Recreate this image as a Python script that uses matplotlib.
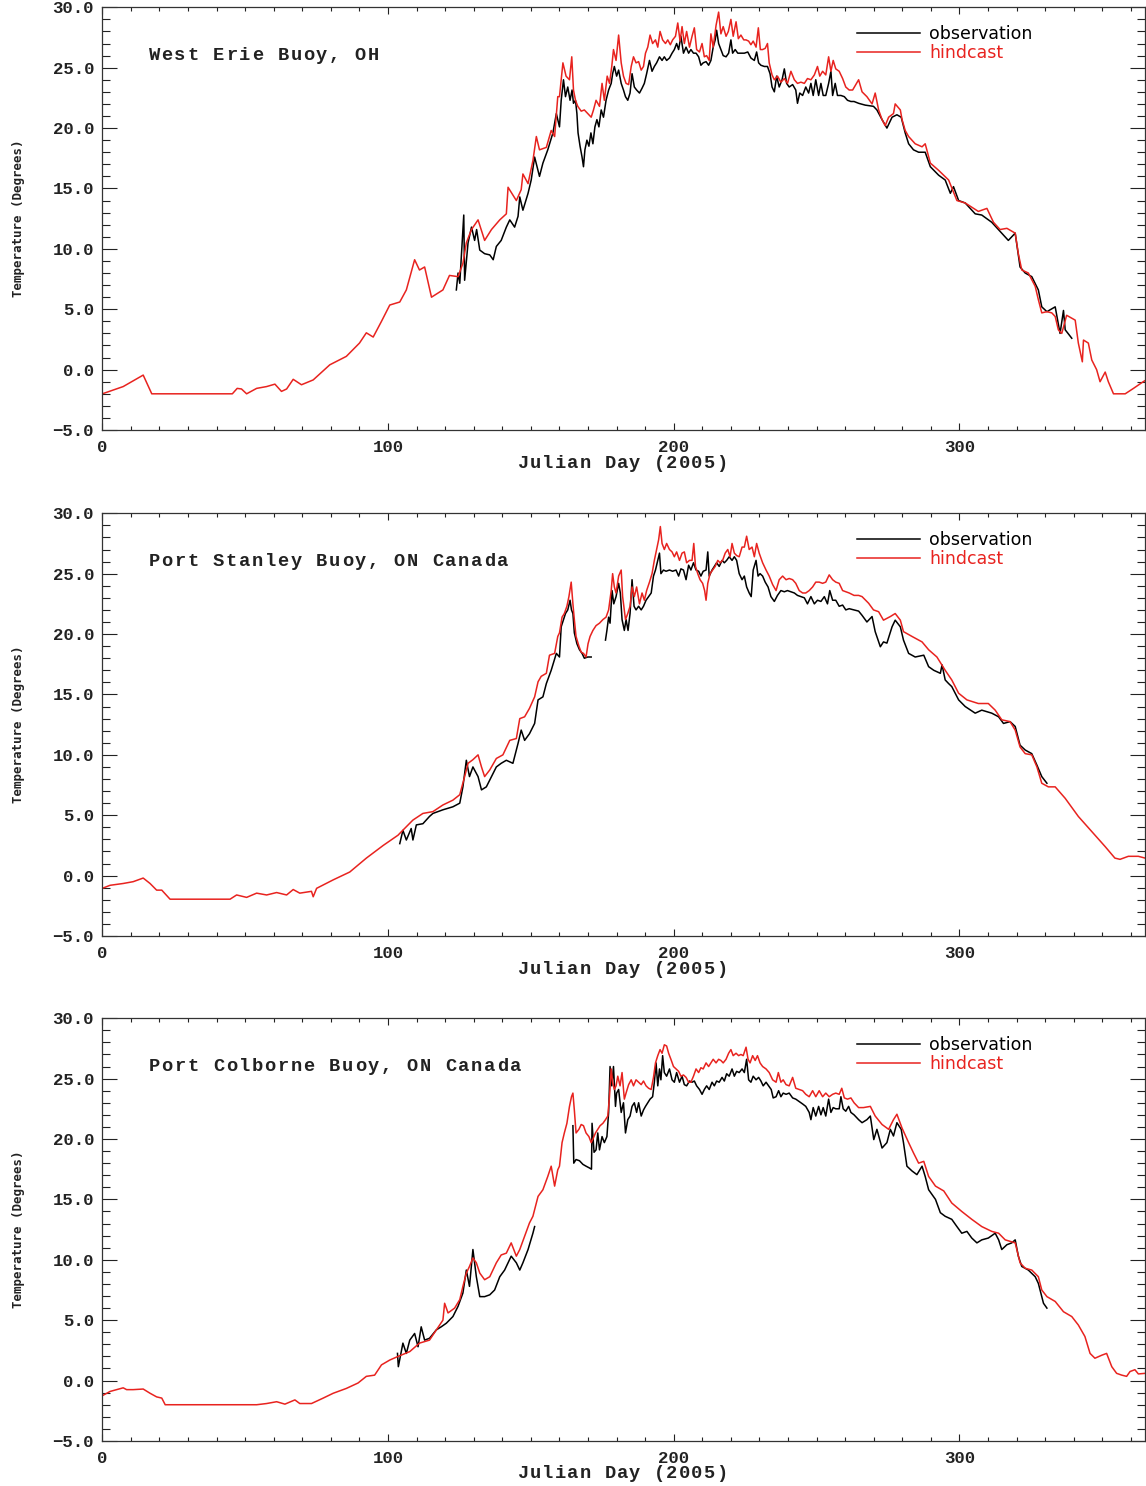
import numpy as np
import matplotlib
matplotlib.use("Agg")
import matplotlib.pyplot as plt
from matplotlib.ticker import MultipleLocator, FuncFormatter
from matplotlib.transforms import offset_copy

# buoy names, one panel each
stations = ["West Erie Buoy, OH", "Port Stanley Buoy, ON Canada", "Port Colborne Buoy, ON Canada"]

# (julian day, water temperature) pairs, 2005
erie_hind = [(0, -2.0), (7.3, -1.4), (14.3, -0.45), (17.3, -2.0), (45.5, -2.0), (47.2, -1.55), (48.7, -1.6),
             (50.5, -2.0), (54, -1.55), (57.5, -1.4), (60.4, -1.2), (62.7, -1.8), (64.5, -1.6), (66.8, -0.8),
             (69.7, -1.25), (73.8, -0.85), (79.6, 0.4), (85.4, 1.1), (90, 2.2), (92.4, 3.05), (94.8, 2.7),
             (97.7, 4.0), (100.6, 5.35), (104.1, 5.6), (106.4, 6.6), (109.3, 9.1), (111, 8.25), (112.8, 8.5),
             (115.2, 6.0), (119.2, 6.6), (121.5, 7.8), (124.5, 7.7), (126.2, 8.8), (127.4, 10.5), (129.2, 11.6),
             (131.5, 12.4), (133.8, 10.7), (136.2, 11.6), (139.1, 12.4), (141.4, 12.9), (142.0, 15.1),
             (144.9, 14.0), (146.6, 14.9), (147.2, 16.2), (149, 15.4), (150.7, 17.3), (151.9, 19.3), (153, 18.2),
             (155.4, 18.4), (157.1, 19.8), (158.3, 19.3), (159.4, 22.6),
             (160, 22.6), (161.2, 25.4), (162.3, 24.3), (163.5, 24.0), (164.3, 25.9), (164.9, 23.15), (165.6, 22.3),
             (166.4, 21.8), (167.6, 21.4), (168.7, 21.5), (169.9, 21.2), (171.1, 20.9), (171.9, 21.5), (172.8, 22.3),
             (174, 21.8), (174.9, 23.7), (175.7, 22.3), (176.7, 24.3), (177.5, 23.7), (178.3, 25.1), (178.9, 26.5),
             (179.8, 25.6), (180.7, 27.7), (181.6, 25.4), (182.4, 24.3), (183.3, 23.7), (184.2, 23.6), (185.1, 25.1),
             (185.9, 25.9), (186.8, 25.4), (187.7, 25.5), (188.6, 24.8), (189.4, 25.1), (190.1, 26.2), (190.9, 26.7),
             (191.7, 27.7), (192.6, 27.0), (193.6, 27.3), (194.4, 26.7), (195.2, 28.0), (196.1, 27.3), (197.1, 27.0),
             (197.9, 27.3), (198.8, 26.9), (199.6, 27.3), (200.6, 27.6), (201.4, 28.7), (202.2, 27.2), (202.9, 28.4),
             (203.7, 27.0), (204.5, 28.0), (205.5, 26.7), (206.4, 27.6), (207.2, 28.3), (208, 26.5), (209, 26.3),
             (209.9, 27.0), (210.7, 25.9), (211.5, 26.0), (212.4, 25.6), (213, 27.8), (213.8, 26.7), (214.8, 28.5),
             (215.7, 29.6), (216.5, 27.8), (217.3, 28.4), (218.3, 27.6), (219.1, 28.0), (220, 29.0), (220.8, 27.6),
             (221.8, 28.8), (222.6, 27.4), (223.5, 27.7), (224.5, 27.3), (225.3, 27.3), (226.2, 27.2), (227, 26.9),
             (227.8, 27.2), (228.8, 26.7), (229.6, 28.3), (230.3, 26.5), (231.1, 26.5), (232, 26.6), (232.8, 27.0),
             (233.4, 25.4), (234.4, 24.4), (235.2, 24.0), (236.3, 24.3), (237.5, 23.8), (238.7, 24.1), (239.8, 23.7),
             (241, 24.7), (242.2, 24.0), (243.3, 23.7), (244.5, 23.8), (245.7, 23.7), (246.8, 24.1), (248, 24.0),
             (249.2, 24.4), (250.3, 25.1), (251.1, 24.3), (252.1, 24.7), (253.2, 24.4), (254.2, 25.9), (255, 24.7),
             (255.8, 25.6), (256.7, 24.9), (257.9, 24.7), (259.1, 24.1), (260.2, 23.4), (261.4, 23.15),
             (262.6, 23.15), (263.7, 23.6), (264.7, 24.0),
             (265.9, 23.0), (267.6, 22.6), (269.4, 22.0), (270.5, 22.9), (271.7, 21.5), (272.9, 20.7), (274, 20.2),
             (275.2, 20.9), (276.9, 21.2), (277.5, 22.0), (279.3, 21.5), (279.9, 20.7), (281, 19.8), (282.2, 19.3),
             (284.5, 18.7), (286.9, 18.45), (288, 18.7), (289.8, 17.1), (292.7, 16.5), (296.2, 15.7), (299.1, 14.0),
             (302, 13.8), (306.6, 13.1), (309.6, 13.35), (311.9, 12.2), (314.2, 11.6), (316.6, 11.7), (319.5, 11.3),
             (320.6, 9.6), (321.8, 8.25), (324.1, 8.0), (326.5, 6.9), (327.6, 5.8), (328.8, 4.7), (330.6, 4.8),
             (332.3, 4.7), (333.5, 4.4), (334.6, 3.3), (335.8, 3.0), (337.5, 4.5), (340.5, 4.1), (341.6, 2.2),
             (343, 0.65), (343.4, 2.45), (345.1, 2.2), (346.3, 0.8), (348, 0.0), (349.2, -1.0), (351, -0.2),
             (352.1, -1.0), (353.9, -2.0), (358, -2.0), (360.9, -1.55), (364.3, -1.0), (365, -0.9)]

erie_obs = [(123.9, 6.6), (124.5, 8.0), (125.1, 7.15), (126.5, 12.8), (126.8, 7.4), (128, 10.5), (129.2, 11.8),
            (130.3, 10.7), (131, 11.6), (132.1, 9.9), (133.8, 9.6), (135.6, 9.5), (136.8, 9.1), (137.9, 10.2),
            (139.6, 10.7), (141.4, 11.8), (142.6, 12.4), (144.3, 11.8), (145.5, 12.7), (146.1, 14.3), (147.2, 13.2),
            (149, 14.6), (150.1, 15.7), (151.3, 17.6), (153, 16.0), (154.2, 17.1), (155.9, 18.2), (157.7, 19.6),
            (158.9, 21.2),
            (160, 20.1), (160.6, 22.3), (161.4, 24.0), (162.1, 22.6), (162.9, 23.4), (163.7, 22.3), (164.4, 23.15),
            (164.9, 22.05), (165.6, 22.3), (166.1, 21.2), (166.5, 19.6), (167.2, 18.5), (167.9, 17.6), (168.4, 16.8),
            (168.9, 18.2), (169.6, 19.0), (170.3, 18.5), (171, 19.6), (171.7, 18.7), (172.4, 20.1), (173.1, 20.7),
            (173.8, 20.1), (174.6, 21.5), (175.4, 20.9), (176.3, 22.3), (177.2, 23.15), (178.1, 23.7), (178.6, 24.5),
            (179.2, 25.1), (180, 24.3), (180.7, 24.8), (181.6, 23.7), (182.4, 23.15), (183.1, 22.6), (183.9, 22.3),
            (184.7, 22.9), (185.4, 24.5), (186.2, 23.4), (187, 23.15), (188, 22.9), (188.9, 23.3), (189.7, 23.7),
            (190.5, 24.5), (191.5, 25.6), (192.4, 24.7), (193.2, 25.1), (194, 25.4), (195, 25.9), (195.9, 25.6),
            (196.7, 25.9), (197.5, 25.6), (198.5, 25.8), (199.4, 26.2), (200.2, 26.5), (201, 27.0), (201.7, 26.5),
            (202.5, 27.6), (203.4, 26.2), (204.3, 26.7), (205.2, 26.2), (206, 26.5), (206.9, 26.2), (207.8, 26.2),
            (208.7, 25.9), (209.5, 25.2), (210.3, 25.4), (211.3, 25.5), (212.2, 25.2), (213, 25.6), (213.8, 26.7),
            (214.5, 27.3), (215, 28.1), (215.7, 27.0), (216.5, 26.5), (217.3, 26.0), (218.3, 25.9), (219.2, 26.2),
            (220, 27.3), (220.6, 26.2), (221.5, 26.5), (222.4, 26.2), (223.5, 26.2), (224.7, 26.2), (225.9, 26.3),
            (227, 25.8), (228.2, 25.6), (229, 26.3), (229.7, 25.4), (230.5, 25.2), (231.7, 25.1), (232.8, 25.1),
            (233.7, 24.5), (234.4, 23.4), (235.2, 23.0), (236, 24.3), (236.9, 23.4), (237.9, 24.0), (238.7, 24.9),
            (239.5, 23.7), (240.4, 23.4), (241.6, 23.6), (242.7, 23.15), (243.3, 22.05), (244.1, 22.9),
            (245.1, 22.7), (246.2, 23.4), (247.2, 22.9), (248, 23.7), (248.8, 22.7), (249.7, 24.0), (250.7, 22.7),
            (251.5, 23.7), (252.3, 22.7), (253.2, 22.7), (254.2, 23.7), (255, 24.7), (255.6, 22.7), (256.5, 23.7),
            (257.3, 22.7), (258.5, 22.7), (259.7, 22.6), (260.8, 22.3), (262, 22.2), (263.1, 22.2), (264.7, 22.05),
            (267, 21.9), (269.9, 21.8), (271.1, 21.5), (272.9, 20.7), (274.6, 20.0), (276.4, 20.9), (278.1, 21.1),
            (279.6, 20.9), (281, 19.6), (282.2, 18.7), (283.9, 18.2), (285.7, 18.0), (288, 18.0), (289.8, 16.8),
            (292.7, 16.1), (295, 15.7), (296.8, 14.6), (297.9, 15.15), (299.7, 14.0), (302, 13.8), (305.5, 12.9),
            (307.8, 12.8), (311.3, 12.2), (314.8, 11.3), (317.1, 10.7), (319.5, 11.3), (321.2, 8.5), (323, 8.0),
            (325.3, 7.7), (327.6, 6.6), (328.8, 5.2), (330.6, 4.8), (333.5, 5.2), (335.2, 3.0), (336.4, 4.9),
            (337, 3.3), (339.3, 2.6)]

stanley_hind = [(0, -1.05), (2.7, -0.8), (7.3, -0.65), (10.8, -0.5), (14.3, -0.2), (16.7, -0.65), (19, -1.2),
                (20.8, -1.2), (23.7, -1.95), (44.7, -1.95), (47, -1.6), (50.5, -1.8), (54, -1.45), (57.5, -1.6),
                (61, -1.4), (64.5, -1.6), (66.8, -1.15), (69.1, -1.45), (73.2, -1.3), (73.8, -1.75), (75, -1.05),
                (80.8, -0.35), (86.6, 0.3), (92.4, 1.45), (98.3, 2.5), (103.5, 3.35), (104.1, 3.5), (108.7, 4.6),
                (112.2, 5.15), (115.7, 5.3), (119.2, 5.85), (122.7, 6.25), (125.1, 6.7), (126.8, 8.2), (128, 9.3),
                (129.7, 9.6), (131.5, 10.0), (132.7, 9.0), (133.8, 8.2), (135.6, 8.75), (137.9, 9.7), (140.2, 10.0),
                (142.6, 11.2), (144.9, 11.35), (146.1, 13.0), (147.8, 13.15), (149.5, 13.85), (151.3, 14.8),
                (152.5, 16.05), (153.6, 16.5), (155.4, 16.75), (156.5, 18.25), (158.3, 18.4), (159.4, 19.8),
                (160, 20.1), (160.9, 21.4), (161.7, 21.7), (162.6, 22.3), (163.3, 23.1), (164.1, 24.3), (164.7, 22.5),
                (165.2, 21.2), (165.8, 19.8), (166.8, 19.0), (167.6, 18.5), (168.4, 18.4), (169.3, 18.1), (170, 19.2),
                (170.7, 19.8), (171.7, 20.3), (172.8, 20.7), (174, 20.9), (175.2, 21.2), (176.3, 21.4), (177.2, 22.0),
                (178.1, 23.6), (178.6, 25.0), (179.2, 23.9), (179.8, 23.4), (180.7, 24.8), (181.6, 25.3), (182.1, 23.1),
                (183.1, 21.2), (183.9, 21.7), (184.7, 22.3), (185.4, 23.9), (186.2, 23.1), (187, 23.9), (188, 22.5),
                (188.9, 23.4), (189.7, 22.8), (190.5, 23.6), (191.5, 24.3), (192.4, 25.0), (193.2, 26.1), (194, 27.0),
                (194.7, 27.8), (195.3, 28.9), (195.9, 27.5), (196.7, 27.0), (197.5, 27.5), (198.5, 27.0),
                (199.4, 26.8), (200.2, 26.4), (201, 26.8), (202, 26.1), (202.9, 26.7), (203.7, 26.8), (204.5, 25.9),
                (205.5, 26.1), (206.4, 26.1), (207, 27.5), (207.6, 25.6), (208.4, 25.0), (209.2, 24.5), (210.1, 24.2),
                (210.8, 23.6), (211.3, 22.8), (211.9, 24.2), (212.7, 25.0), (213.6, 25.3), (214.5, 25.6),
                (215.4, 26.1), (216.2, 25.9), (217.1, 26.1), (218, 26.7), (218.9, 27.0), (219.7, 26.4), (220.4, 27.5),
                (221.2, 26.7), (222, 26.5), (222.9, 26.4), (223.9, 27.2), (224.7, 27.2), (225.5, 28.1), (226.4, 27.0),
                (227.4, 27.2), (228.2, 26.4), (229, 27.5), (229.9, 26.7), (231.1, 25.9), (232.3, 25.3), (233.4, 24.8),
                (234.6, 24.1), (235.8, 23.6), (236.9, 24.5), (238.1, 24.8), (239.3, 24.5), (240.4, 24.6),
                (241.6, 24.5), (242.7, 24.2), (243.9, 23.6), (245.1, 23.4), (246.2, 23.4), (247.4, 23.6),
                (248.6, 23.9), (249.7, 24.3), (250.9, 24.3), (252.1, 24.2), (253.2, 24.3), (254.4, 24.9),
                (255.6, 24.5), (256.7, 24.3), (257.9, 24.2), (259.1, 23.6), (260.2, 23.5), (261.4, 23.4),
                (263.1, 23.2), (264.7, 23.2),
                (265.9, 23.1), (268.2, 22.55), (269.9, 22.0), (271.7, 21.85), (273.4, 21.15), (275.8, 21.45),
                (277.5, 21.7), (279.3, 21.15), (280.4, 20.2), (283.4, 19.8), (286.9, 19.35), (289.2, 18.7),
                (292.1, 18.1), (295, 17.0), (297.3, 16.2), (299.7, 15.1), (302.6, 14.55), (306.6, 14.25),
                (310.1, 14.25), (312.5, 13.7), (314.8, 12.9), (317.7, 12.75), (319.5, 12.05), (321.2, 10.65),
                (323, 10.1), (325.3, 10.0), (327.1, 9.0), (328.8, 7.65), (331.1, 7.35), (333.5, 7.35), (337, 6.4),
                (341.6, 4.9), (346.3, 3.65), (351, 2.4), (354.4, 1.45), (356.2, 1.35), (359.1, 1.6), (362.6, 1.6),
                (365, 1.45)]

stanley_obs = [(104.1, 2.65), (105.2, 3.75), (106.4, 2.95), (108.1, 3.9), (108.7, 2.95), (109.9, 4.2),
               (112.2, 4.3), (114.5, 4.9), (115.7, 5.15), (119.2, 5.45), (122.7, 5.7), (125.1, 6.0), (126.2, 7.35),
               (127.4, 9.55), (128.5, 8.2), (129.7, 9.0), (131.5, 8.2), (132.7, 7.1), (134.4, 7.35), (136.2, 8.2),
               (137.9, 9.0), (139.6, 9.3), (141.4, 9.55), (143.7, 9.3), (145.5, 10.95), (146.6, 12.05),
               (147.8, 11.2), (149.5, 11.75), (151.3, 12.6), (152.5, 14.55), (154.2, 14.8), (155.4, 15.9),
               (157.1, 17.0), (158.9, 18.4),
               (160, 18.1), (160.6, 20.6), (161.4, 21.2), (162.1, 21.7), (162.9, 22.0), (163.7, 22.8), (164.2, 22.0),
               (164.7, 21.7), (165.2, 20.1), (166.1, 19.2), (167, 18.7), (167.9, 18.4), (168.7, 18.0), (169.9, 18.1),
               (171.1, 18.1),
               (np.nan, np.nan),
               (176.1, 19.5), (176.6, 20.3), (177.2, 21.4), (177.7, 20.9), (178.4, 23.6), (179, 22.5), (179.8, 23.1),
               (180.7, 24.2), (181.3, 23.4), (181.9, 21.2), (182.7, 20.3), (183.3, 21.2), (184, 20.3), (184.7, 21.7),
               (185.4, 24.5), (186.1, 22.3), (186.8, 22.0), (187.7, 22.3), (188.6, 22.0), (189.4, 22.3),
               (190.3, 22.8), (191.2, 23.1), (192.1, 23.4), (192.9, 24.8), (193.6, 25.3), (194.4, 26.1), (195, 26.7),
               (195.5, 25.0), (196.4, 25.3), (197.3, 25.2), (198.5, 25.3), (199.6, 25.2), (200.8, 25.3),
               (201.7, 24.8), (202.5, 25.4), (203.4, 25.3), (204.3, 24.5), (205.2, 25.7), (206, 25.3), (206.9, 25.9),
               (207.8, 25.3), (208.7, 25.2), (209.5, 24.8), (210.3, 25.2), (211.3, 25.3), (211.9, 26.8),
               (212.4, 24.8), (213.4, 25.3), (214.2, 25.6), (215, 25.9), (215.9, 25.6), (216.9, 26.1), (217.7, 25.9),
               (218.5, 26.1), (219.4, 26.4), (220.4, 26.1), (221.2, 26.4), (222, 26.1), (222.9, 25.0), (223.9, 24.5),
               (224.7, 24.8), (225.5, 23.9), (226.4, 23.4), (227.1, 23.1), (227.8, 25.3), (228.8, 26.1),
               (229.5, 24.8), (230.2, 25.0), (231.1, 24.8), (232, 24.3), (233, 23.9), (234, 23.1), (235.2, 22.7),
               (236.3, 23.2), (237.5, 23.6), (238.7, 23.5), (239.8, 23.6), (241, 23.5), (242.2, 23.4),
               (243.3, 23.2), (244.5, 23.1), (245.7, 23.0), (246.8, 22.5), (248, 23.1), (249.2, 22.5),
               (250.3, 22.8), (251.5, 22.7), (252.7, 23.1), (253.8, 22.5), (254.6, 23.6), (255.6, 22.8),
               (256.7, 22.8), (257.9, 22.3), (259.1, 22.4), (260.2, 22.0), (261.4, 22.1), (263.1, 22.0),
               (264.7, 21.9),
               (265.9, 21.55), (267.6, 21.0), (269.4, 21.45), (270.5, 20.2), (272.3, 18.95), (273.4, 19.35),
               (274.6, 19.25), (276.4, 20.6), (277.5, 21.15), (279.3, 20.6), (280.4, 19.5), (282.2, 18.4),
               (284.5, 18.1), (287.5, 18.25), (289.2, 17.3), (291, 17.0), (293.3, 16.75), (293.9, 17.45),
               (295, 16.2), (296.2, 15.9), (297.3, 15.65), (299.7, 14.55), (302, 14.0), (305.5, 13.45),
               (307.8, 13.7), (311.3, 13.45), (313.7, 13.15), (315.4, 12.6), (317.7, 12.75), (319.5, 12.35),
               (321.2, 10.8), (323, 10.4), (325.3, 10.1), (327.1, 9.15), (328.8, 8.2), (330.6, 7.65)]

colborne_hind = [(0, -1.25), (2.7, -0.9), (5, -0.75), (7.3, -0.6), (8.5, -0.75), (10.8, -0.75), (14.3, -0.7),
                 (16.7, -1.05), (19, -1.35), (20.8, -1.45), (22, -2.0), (54, -2.0), (57.5, -1.9), (61, -1.75),
                 (63.9, -1.95), (67.4, -1.6), (69.1, -1.9), (73.2, -1.9), (77.3, -1.45), (80.8, -1.05),
                 (85.4, -0.65), (89.5, -0.2), (92.4, 0.35), (95.3, 0.45), (97.7, 1.3), (100.6, 1.7), (103.5, 2.0),
                 (107.6, 2.4), (111, 3.1), (114.5, 3.35), (116.9, 4.2), (119.2, 5.0), (119.8, 6.4), (121, 5.6),
                 (123.3, 6.0), (125.1, 6.7), (126.2, 7.8), (127.4, 8.9), (128.5, 9.45), (129.7, 10.15),
                 (130.9, 9.75), (132.1, 8.9), (133.8, 8.35), (135.6, 8.6), (137.9, 9.75), (139.6, 10.4),
                 (141.4, 10.55), (143.1, 11.4), (144.9, 10.3), (146.1, 10.85), (147.8, 11.95), (149.5, 13.05),
                 (150.7, 13.6), (152.5, 15.25), (154.2, 15.8), (155.9, 16.9), (157.1, 17.75), (158.3, 16.1),
                 (159.4, 17.45),
                 (160, 17.75), (160.9, 19.7), (161.7, 20.5), (162.6, 21.3), (163.5, 22.7), (164.2, 23.5),
                 (164.7, 23.8), (165.2, 22.4), (165.8, 20.5), (166.8, 20.8), (167.6, 21.2), (168.4, 21.1),
                 (169.3, 20.5), (170.3, 20.2), (171.1, 19.7), (171.7, 20.0), (172.6, 20.5), (173.4, 20.8),
                 (174.2, 21.1), (175.2, 21.3), (176.1, 21.6), (176.9, 21.9), (177.5, 23.5), (178.1, 25.8),
                 (178.6, 24.7), (179.2, 24.1), (179.8, 24.4), (180.4, 25.2), (181.2, 24.4), (181.9, 25.5),
                 (182.7, 23.3), (183.3, 23.8), (184.2, 24.5), (185.1, 24.9), (185.9, 24.4), (186.8, 24.9),
                 (187.7, 24.7), (188.6, 24.5), (189.4, 24.8), (190.3, 24.4), (191.2, 24.2), (192.1, 24.1),
                 (192.9, 25.1), (193.6, 26.3), (194.4, 26.9), (195.2, 27.4), (195.9, 27.1), (196.7, 27.8),
                 (197.5, 27.7), (198.2, 27.1), (199, 26.6), (199.9, 26.0), (200.8, 25.8), (201.7, 25.6),
                 (202.5, 25.2), (203.4, 25.3), (204.3, 25.1), (205.2, 24.7), (206, 24.7), (206.9, 25.2),
                 (207.8, 25.8), (208.7, 25.5), (209.5, 25.9), (210.3, 25.8), (211.3, 26.3), (212.2, 26.0),
                 (213, 26.3), (213.8, 26.6), (214.8, 26.3), (215.7, 26.6), (216.5, 26.5), (217.3, 26.3),
                 (218.3, 26.6), (219.2, 27.1), (220, 27.4), (220.8, 26.9), (221.8, 27.1), (222.7, 26.9),
                 (223.5, 27.0), (224.3, 26.9), (225.3, 27.6), (226, 26.6), (226.7, 26.3), (227.6, 26.9),
                 (228.5, 26.5), (229.3, 26.9), (230.2, 26.3), (231.1, 26.0), (232.3, 25.8), (233.4, 25.5),
                 (234.6, 24.9), (235.8, 24.7), (236.6, 25.5), (237.5, 24.7), (238.3, 24.9), (239.3, 24.5),
                 (240.4, 24.4), (241.6, 25.1), (242.7, 24.2), (243.9, 24.1), (245.1, 24.0), (246.2, 23.7),
                 (247.4, 23.5), (248.6, 24.0), (249.7, 23.5), (250.9, 24.0), (252.1, 23.5), (253.2, 23.8),
                 (254.4, 23.5), (255.6, 23.7), (256.7, 23.8), (257.9, 23.7), (258.8, 24.2), (259.7, 23.4),
                 (260.8, 23.3), (262, 23.4), (263.1, 23.0), (264.7, 22.6),
                 (266.4, 22.6), (268.8, 22.7), (270.5, 21.9), (272.9, 21.2), (275.2, 20.8), (276.9, 21.6),
                 (278.1, 22.05), (279.9, 20.9), (282.2, 19.7), (283.9, 18.85), (285.7, 18.0), (287.5, 18.15),
                 (289.2, 16.9), (291.6, 16.1), (294.5, 15.7), (297.3, 14.7), (300.8, 14.0), (304.3, 13.35),
                 (307.8, 12.75), (311.3, 12.35), (313.7, 12.2), (316, 11.65), (319.5, 11.4), (321.2, 9.75),
                 (323, 9.3), (325.3, 9.15), (327.6, 8.6), (328.8, 7.5), (330.6, 6.95), (333.5, 6.55), (336.4, 5.7),
                 (339.3, 5.3), (341.6, 4.6), (343.9, 3.65), (345.7, 2.25), (347.4, 1.85), (349.8, 2.1),
                 (351.5, 2.25), (353.3, 1.15), (355, 0.6), (356.8, 0.45), (358.5, 0.35), (359.7, 0.75),
                 (361.4, 0.9), (362.6, 0.55), (365, 0.6)]

colborne_obs = [(103.3, 2.25), (103.6, 1.15), (105.2, 3.1), (106.4, 2.25), (107.6, 3.35), (109.3, 3.9),
                (110.5, 2.8), (111.6, 4.45), (112.8, 3.35), (114.5, 3.5), (116.9, 4.2), (118.6, 4.45), (120.4, 4.75),
                (122.7, 5.3), (124.5, 6.15), (126.2, 7.25), (127.4, 9.15), (128.5, 7.8), (129.7, 10.85),
                (130.9, 8.6), (132.1, 6.95), (133.8, 6.95), (135.6, 7.1), (137.3, 7.5), (139.1, 8.6), (140.8, 9.15),
                (142, 9.75), (143.1, 10.3), (144.9, 9.75), (146.1, 9.15), (147.2, 9.75), (149, 10.85),
                (150.7, 12.2), (151.3, 12.75),
                (np.nan, np.nan),
                (164.7, 21.1), (165, 18.0), (165.8, 18.3), (167, 18.2), (168.2, 17.9), (169.3, 17.75), (170.5, 17.6),
                (171.2, 17.5), (171.4, 21.3), (172.1, 18.9), (172.8, 19.1), (173.4, 20.5), (174, 19.1),
                (174.9, 20.2), (175.7, 19.7), (176.6, 20.2), (177.2, 22.2), (177.7, 26.0), (178.3, 24.4),
                (178.9, 26.0), (179.6, 22.7), (180, 23.8), (180.7, 24.1), (181.6, 22.2), (182.4, 23.0),
                (183.1, 20.5), (183.9, 21.6), (184.7, 21.9), (185.4, 22.7), (186.2, 23.0), (187, 22.2),
                (187.7, 23.0), (188.6, 21.9), (189.4, 22.4), (190.1, 22.7), (190.9, 23.0), (191.7, 23.3),
                (192.6, 23.5), (193.2, 24.7), (193.8, 26.3), (194.4, 24.4), (195, 25.8), (195.5, 24.9),
                (196.1, 26.9), (196.7, 25.5), (197.5, 25.2), (198.5, 25.8), (199.4, 24.9), (200.2, 24.7),
                (201, 25.5), (202, 24.7), (202.9, 25.2), (203.7, 24.5), (204.5, 24.4), (205.5, 24.8), (206.4, 24.7),
                (207.2, 24.8), (208, 24.4), (209, 24.1), (209.9, 23.7), (210.7, 24.1), (211.5, 24.4), (212.4, 24.1),
                (213.4, 24.7), (214.2, 24.4), (215, 24.8), (215.9, 24.7), (216.9, 25.1), (217.7, 24.8),
                (218.5, 25.4), (219.4, 25.2), (220.4, 25.8), (221.2, 25.2), (222, 25.6), (222.9, 25.5),
                (223.9, 25.8), (224.7, 25.5), (225.5, 26.6), (226.2, 24.9), (227, 24.7), (227.8, 25.2),
                (228.8, 24.9), (229.7, 25.1), (230.5, 24.8), (231.3, 24.4), (232.3, 24.7), (233.2, 24.4),
                (234.1, 24.1), (234.8, 23.4), (235.8, 23.5), (236.7, 24.0), (237.5, 23.5), (238.3, 23.8),
                (239.3, 23.7), (240.4, 23.8), (241.6, 23.4), (242.7, 23.3), (243.9, 23.1), (245.1, 22.9),
                (246.2, 22.7), (247.4, 22.2), (248, 21.6), (248.8, 22.6), (249.7, 21.9), (250.7, 22.7),
                (251.5, 22.0), (252.3, 22.6), (253.2, 21.9), (254.2, 23.3), (255, 22.2), (255.8, 22.6),
                (256.7, 22.5), (257.9, 22.5), (258.5, 23.5), (259.3, 22.5), (260.2, 22.3), (261.2, 22.7),
                (262, 22.2), (263.1, 22.0), (264.7, 21.6),
                (265.9, 21.35), (267.6, 21.6), (268.8, 21.9), (270, 19.95), (271.1, 20.8), (272.9, 19.25),
                (274.6, 19.7), (275.8, 20.8), (276.9, 20.25), (278.1, 21.35), (279.6, 20.8), (280.4, 19.7),
                (281.6, 17.75), (283.4, 17.35), (285.1, 17.05), (286.9, 17.75), (288, 16.9), (289.2, 15.8),
                (291.6, 15.0), (293.3, 13.9), (295, 13.6), (297.3, 13.35), (299.1, 12.75), (300.8, 12.2),
                (302.6, 12.35), (304.3, 11.8), (306.1, 11.4), (307.8, 11.65), (310.1, 11.8), (312.5, 12.2),
                (313.7, 11.65), (314.8, 10.85), (316.6, 11.25), (318.3, 11.4), (319.5, 11.65), (320.6, 10.3),
                (321.8, 9.45), (324.1, 9.15), (326.5, 8.6), (327.6, 8.05), (328.8, 6.95), (329.4, 6.4),
                (330.6, 6.0)]

observed = [erie_obs, stanley_obs, colborne_obs]
hindcast = [erie_hind, stanley_hind, colborne_hind]

RED = "#e8231f"
INK = "#222222"
MONO = ["Liberation Mono", "DejaVu Sans Mono"]

fig = plt.figure(figsize=(11.46, 14.86), dpi=100)
bottoms = [0.7106, 0.3701, 0.0303]


def deg_fmt(v, pos):
    return ("%.1f" % v).replace("-", "\u2212")


def spread_text(ax, x, y, s, step, **kw):
    # one glyph per text object at a fixed pitch (in pixels), like the wide plot font
    for i, ch in enumerate(s):
        tr = offset_copy(ax.transAxes, fig=ax.figure, x=i * step, y=0, units="dots")
        ax.text(x, y, ch, transform=tr, ha="center", va="center", **kw)


for k in range(3):
    ax = fig.add_axes([0.0893, bottoms[k], 0.910, 0.2845])
    obs = np.array(observed[k], dtype=float)
    hind = np.array(hindcast[k], dtype=float)
    ax.plot(obs[:, 0], obs[:, 1], color="black", lw=1.1, label="observation")
    ax.plot(hind[:, 0], hind[:, 1], color=RED, lw=1.1, label="hindcast")

    ax.set_xlim(0, 365)
    ax.set_ylim(-5, 30)
    ax.set_xticks([0, 100, 200, 300])
    ax.xaxis.set_minor_locator(MultipleLocator(10))
    ax.yaxis.set_major_locator(MultipleLocator(5))
    ax.yaxis.set_minor_locator(MultipleLocator(1))
    ax.yaxis.set_major_formatter(FuncFormatter(deg_fmt))
    ax.tick_params(which="both", direction="in", top=True, right=True, width=0.8, colors=INK)
    ax.tick_params(axis="y", which="major", length=11, pad=6)
    ax.tick_params(axis="y", which="minor", length=6)
    ax.tick_params(axis="x", which="major", length=5, pad=7)
    ax.tick_params(axis="x", which="minor", length=3)
    for lab in ax.get_xticklabels() + ax.get_yticklabels():
        lab.set_fontfamily(MONO)
        lab.set_fontweight("bold")
        lab.set_fontsize(12.5)
        lab.set_color(INK)
    for sp in ax.spines.values():
        sp.set_linewidth(0.9)
        sp.set_color("#333333")

    ax.set_ylabel("Temperature (Degrees)", family=["DejaVu Sans Mono"], fontweight="bold", fontsize=9,
                  labelpad=20, color=INK)
    spread_text(ax, 0.4035, -0.078, "Julian Day (2005)", 12.4, family=MONO, fontweight="bold",
                fontsize=13.5, color=INK)
    spread_text(ax, 0.0496, 0.886, stations[k], 12.9, family=MONO, fontweight="bold",
                fontsize=13.5, color=INK)

    ax.legend(loc="upper left", bbox_to_anchor=(0.724, 0.958), frameon=False,
              handlelength=3.6, handletextpad=0.55, labelspacing=0.08, borderpad=0, borderaxespad=0,
              labelcolor="linecolor", prop={"family": "DejaVu Sans", "size": 12.5})

fig.savefig("out.png", dpi=100)
